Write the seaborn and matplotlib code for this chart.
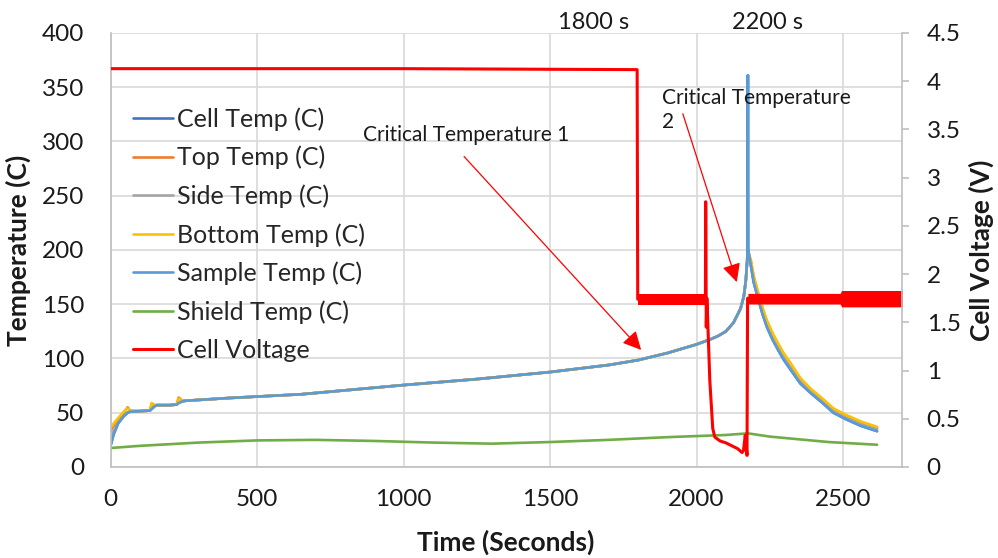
import matplotlib
matplotlib.use("Agg")
import matplotlib.pyplot as plt
import seaborn as sns

# temperature logger time base (s)
temp_time = [0, 5, 10, 25, 45, 58, 66, 100, 134, 140,
             150, 157, 200, 225, 232, 245, 254, 400, 650, 1000,
             1250, 1500, 1700, 1800, 1900, 2000, 2050, 2075, 2100, 2126,
             2150, 2161, 2168, 2172, 2174, 2175, 2176, 2178, 2185, 2195,
             2210, 2225, 2240, 2260, 2280, 2297, 2320, 2354, 2390, 2430,
             2467, 2510, 2560, 2616]

cell_temp = [20, 25, 30, 40, 47, 50, 51, 51.5, 52, 53.5,
             56, 57, 57, 57.5, 59, 60.5, 61, 63.5, 67, 75.5,
             81, 87.5, 94, 98.5, 105, 113, 118, 121, 125, 133,
             146, 157, 172, 188, 200, 361, 200, 197, 186, 170,
             155, 141, 129, 117, 107, 99, 90, 77, 68, 59,
             50, 44, 38, 33]
top_temp = [33, 36, 38, 44, 50, 55, 52, 51.5, 52, 58,
            57, 57, 57, 57.5, 64, 61, 61, 63.5, 67, 75.5,
            81, 87.5, 94, 98.5, 105, 113, 118, 121, 125, 133,
            146, 157, 172, 187, 191, 194, 196, 196, 190, 175,
            160, 146, 134, 122, 112, 104, 95, 81, 71, 62,
            53, 47, 41, 36]
side_temp = [28, 30, 33, 41, 47, 50, 51, 51.5, 52, 53.5,
             56, 57, 57, 57.5, 59, 60.5, 61, 63.5, 67, 75.5,
             81, 87.5, 94, 98.5, 105, 113, 118, 121, 125, 133,
             146, 157, 172, 188, 192, 194, 195, 195, 188, 173,
             158, 144, 132, 120, 110, 102, 93, 79, 70, 61,
             52, 46, 40, 35]
bottom_temp = [37, 38, 40, 45, 51, 54, 52, 51.5, 52, 59,
               57, 57, 57, 57.5, 63, 61, 61, 63.5, 67, 75.5,
               81, 87.5, 94, 98.5, 105, 113, 118, 121, 125, 133,
               146, 157, 172, 187, 192, 195, 197, 197, 191, 176,
               161, 147, 135, 123, 113, 105, 96, 82, 72, 63,
               54, 48, 42, 37]
sample_temp = [20, 25, 30, 40, 47, 50, 51, 51.5, 52, 53.5,
               56, 57, 57, 57.5, 59, 60.5, 61, 63.5, 67, 75.5,
               81, 87.5, 94, 98.5, 105, 113, 118, 121, 125, 133,
               146, 157, 172, 188, 200, 361, 200, 197, 186, 170,
               155, 141, 129, 117, 107, 99, 90, 77, 68, 59,
               50, 44, 38, 33]

shield_time = [0, 100, 300, 500, 700, 900, 1100, 1300, 1500, 1700,
               1900, 2000, 2100, 2175, 2250, 2350, 2450, 2616]
shield_temp = [17.5, 19.5, 22.5, 24.5, 25, 24, 22.5, 21.5, 23, 25,
               27.5, 28.5, 29.5, 31, 28, 25.5, 23, 20.5]

volt_time = [0, 1000, 1797, 1799, 2030, 2031, 2033, 2035, 2037, 2045,
             2055, 2062, 2080, 2100, 2120, 2140, 2155, 2160, 2166, 2170,
             2172, 2174, 2770]
cell_voltage = [4.13, 4.13, 4.12, 1.74, 1.74, 2.75, 1.45, 1.75, 1.6, 0.9,
                0.4, 0.31, 0.27, 0.25, 0.22, 0.19, 0.15, 0.17, 0.33, 0.2,
                0.12, 1.75, 1.75]

# noisy voltage band (min / max envelope)
band1_time = [1800, 2030]
band1_low = [1.68, 1.68]
band1_high = [1.79, 1.79]
band2_time = [2175, 2490, 2495, 2770]
band2_low = [1.69, 1.69, 1.66, 1.66]
band2_high = [1.80, 1.80, 1.83, 1.83]

temp_series = [
    ("Cell Temp (C)", cell_temp, "#4472C4"),
    ("Top Temp (C)", top_temp, "#ED7D31"),
    ("Side Temp (C)", side_temp, "#A5A5A5"),
    ("Bottom Temp (C)", bottom_temp, "#FFC000"),
    ("Sample Temp (C)", sample_temp, "#5B9BD5"),
]

sns.set_theme(style="white")
plt.rcParams['font.family'] = ['Lato', 'DejaVu Sans']
txt = "#1a1a1a"
grid_c = "#D9D9D9"
axis_c = "#BFBFBF"

fig = plt.figure(figsize=(9.98, 5.58), dpi=100)
ax = fig.add_axes([0.1109, 0.1631, 0.7926, 0.7778])
ax2 = ax.twinx()

for name, vals, col in temp_series:
    sns.lineplot(x=temp_time, y=vals, ax=ax, color=col, lw=1.9,
                 label=name, estimator=None, sort=False)
sns.lineplot(x=shield_time, y=shield_temp, ax=ax, color="#70AD47", lw=1.9,
             label="Shield Temp (C)", estimator=None, sort=False)

sns.lineplot(x=volt_time, y=cell_voltage, ax=ax2, color="#FF0000", lw=2.2,
             label="Cell Voltage", estimator=None, sort=False)
ax2.fill_between(band1_time, band1_low, band1_high, color="#FF0000", lw=0)
ax2.fill_between(band2_time, band2_low, band2_high, color="#FF0000", lw=0)

h1, l1 = ax.get_legend_handles_labels()
h2, l2 = ax2.get_legend_handles_labels()
for a in (ax, ax2):
    if a.get_legend() is not None:
        a.get_legend().remove()

ax.set_xlim(0, 2700)
ax.set_ylim(0, 400)
ax2.set_ylim(0, 4.5)
ax.set_xticks(range(0, 2501, 500))
ax.set_yticks(range(0, 401, 50))
ax2.set_yticks([i * 0.5 for i in range(10)])
ax2.set_yticklabels(["0", "0.5", "1", "1.5", "2", "2.5", "3", "3.5", "4", "4.5"])

ax.grid(True, color=grid_c, lw=1.2)
ax2.grid(False)
for a in (ax, ax2):
    for s in a.spines.values():
        s.set_visible(False)
ax.spines["left"].set_visible(True)
ax.spines["bottom"].set_visible(True)
ax2.spines["right"].set_visible(True)
for s in ("left", "bottom"):
    ax.spines[s].set_color(axis_c)
    ax.spines[s].set_linewidth(1.2)
ax2.spines["right"].set_color(axis_c)
ax2.spines["right"].set_linewidth(1.2)

ax.tick_params(axis="both", length=0, labelsize=17.5, labelcolor=txt)
ax.tick_params(axis="y", pad=19)
ax.tick_params(axis="x", pad=16)
ax2.tick_params(axis="y", length=5, width=1.2, color=axis_c, direction="out",
                labelsize=17.5, labelcolor=txt, pad=13)

ax.set_xlabel("Time (Seconds)", fontsize=19, fontweight="bold", color=txt, labelpad=14)
ax.set_ylabel("Temperature (C)", fontsize=19, fontweight="bold", color=txt, labelpad=8)
ax2.set_ylabel("Cell Voltage (V)", fontsize=19, fontweight="bold", color=txt, labelpad=6)

ax2.legend(h1 + h2, l1 + l2, loc="upper left", bbox_to_anchor=(0.028, 0.829),
           frameon=False, fontsize=18, handlelength=1.6, handletextpad=0.15,
           labelspacing=0.6, borderpad=0, borderaxespad=0)

# annotations
arrow = dict(arrowstyle="-|>", color="red", lw=0.9, mutation_scale=28)
ax.annotate("", xy=(1817, 106), xytext=(1200, 288), arrowprops=arrow)
ax.annotate("", xy=(2140, 168), xytext=(1950, 328), arrowprops=arrow)
ax.text(862, 306, "Critical Temperature 1", fontsize=15, color=txt, va="center")
ax.text(1882, 329, "Critical Temperature\n2", fontsize=15, color=txt,
        va="center", linespacing=1.3)
ax.text(1648, 410, "1800 s", fontsize=17, color=txt, ha="center", va="center")
ax.text(2241, 410, "2200 s", fontsize=17, color=txt, ha="center", va="center")

fig.savefig("out.png", dpi=100)
